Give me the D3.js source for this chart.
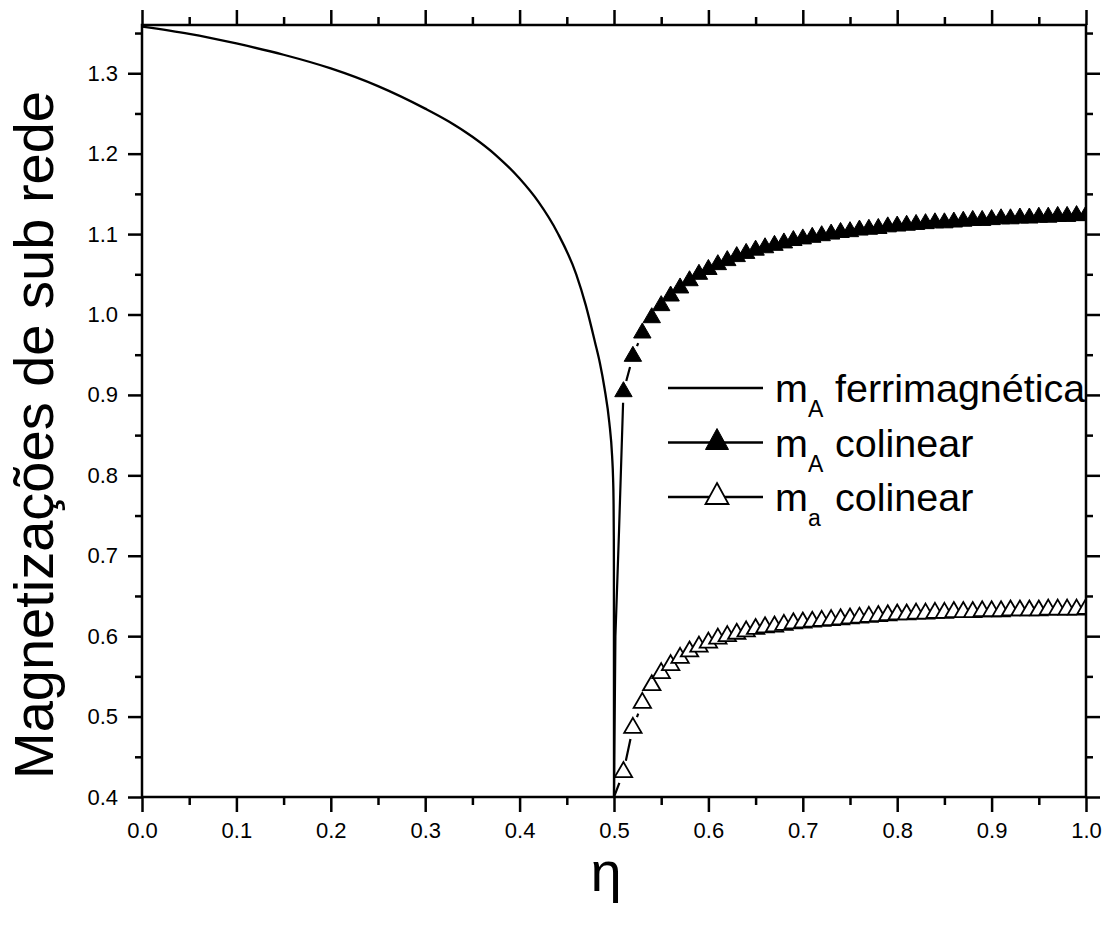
<!DOCTYPE html>
<html>
<head>
<meta charset="utf-8">
<script src="https://cdn.jsdelivr.net/npm/d3@7"></script>
<style>
  html, body { margin: 0; padding: 0; background: #fff; }
  svg { display: block; }
  text { font-family: "Liberation Sans", Arial, Helvetica, sans-serif; fill: #000; }
</style>
</head>
<body>
<svg id="chart" width="1116" height="927"></svg>
<script>
// Sublattice magnetization vs. eta
// Ferrimagnetic phase, m_A (continuous curve)
const etaFerri = [0, 0.05, 0.10, 0.15, 0.20, 0.25, 0.30, 0.325, 0.35, 0.375, 0.40, 0.42, 0.44,
                  0.46, 0.47, 0.48, 0.485, 0.49, 0.495, 0.498, 0.499, 0.4995, 0.4998, 0.4999, 0.5];
const mAFerri  = [1.358, 1.349, 1.337, 1.323, 1.306, 1.284, 1.256, 1.240, 1.221, 1.198, 1.169, 1.140, 1.102,
                  1.050, 1.012, 0.965, 0.940, 0.908, 0.866, 0.824, 0.797, 0.770, 0.725, 0.680, 0.400];

// Colinear phase, points just above the transition (no symbols)
const etaNearA = [0.5, 0.5015, 0.5053];
const mANear   = [0.400, 0.600, 0.730];
const etaNeara = [0.5];
const maNear   = [0.400];

// Colinear phase, points drawn with symbols
const etaCol = [0.51, 0.52, 0.53, 0.54, 0.55, 0.56, 0.57, 0.58, 0.59, 0.60,
                0.61, 0.62, 0.63, 0.64, 0.65, 0.66, 0.67, 0.68, 0.69, 0.70,
                0.71, 0.72, 0.73, 0.74, 0.75, 0.76, 0.77, 0.78, 0.79, 0.80,
                0.81, 0.82, 0.83, 0.84, 0.85, 0.86, 0.87, 0.88, 0.89, 0.90,
                0.91, 0.92, 0.93, 0.94, 0.95, 0.96, 0.97, 0.98, 0.99, 1.00];
const mACol = [0.904, 0.948, 0.977, 0.996, 1.011, 1.023, 1.033, 1.042, 1.050, 1.056,
               1.062, 1.067, 1.072, 1.076, 1.080, 1.083, 1.086, 1.089, 1.092, 1.094,
               1.096, 1.098, 1.100, 1.102, 1.103, 1.105, 1.106, 1.107, 1.109, 1.110,
               1.111, 1.112, 1.113, 1.114, 1.114, 1.115, 1.116, 1.117, 1.117, 1.118,
               1.119, 1.119, 1.120, 1.120, 1.121, 1.121, 1.122, 1.122, 1.123, 1.123];
const maCol = [0.431, 0.486, 0.517, 0.539, 0.554, 0.564, 0.573, 0.581, 0.587, 0.592,
               0.597, 0.600, 0.603, 0.606, 0.609, 0.611, 0.612, 0.614, 0.616, 0.617,
               0.618, 0.619, 0.620, 0.621, 0.622, 0.623, 0.624, 0.625, 0.626, 0.627,
               0.627, 0.628, 0.628, 0.629, 0.629, 0.630, 0.630, 0.630, 0.631, 0.631,
               0.631, 0.632, 0.632, 0.632, 0.632, 0.633, 0.633, 0.633, 0.633, 0.634];

// Axis ticks
const xMajor = [0, 0.1, 0.2, 0.3, 0.4, 0.5, 0.6, 0.7, 0.8, 0.9, 1.0];
const xLabels = ["0.0", "0.1", "0.2", "0.3", "0.4", "0.5", "0.6", "0.7", "0.8", "0.9", "1.0"];
const xMinor = [0.05, 0.15, 0.25, 0.35, 0.45, 0.55, 0.65, 0.75, 0.85, 0.95];
const yMajor = [0.4, 0.5, 0.6, 0.7, 0.8, 0.9, 1.0, 1.1, 1.2, 1.3];
const yLabels = ["0.4", "0.5", "0.6", "0.7", "0.8", "0.9", "1.0", "1.1", "1.2", "1.3"];
const yMinor = [0.45, 0.55, 0.65, 0.75, 0.85, 0.95, 1.05, 1.15, 1.25, 1.35];

const legendItems = [
  { main: "m", sub: "A", rest: "ferrimagnética", symbol: null },
  { main: "m", sub: "A", rest: "colinear", symbol: "filled" },
  { main: "m", sub: "a", rest: "colinear", symbol: "open" }
];

// ---------------------------------------------------------------
const svg = d3.select("#chart");
const L = 142, R = 1086, T = 25, B = 797;
const x = d3.scaleLinear().domain([0, 1]).range([L, R]);
const y = d3.scaleLinear().domain([0.4, 1.36]).range([B, T]);

const AXW = 2.5;

svg.append("defs").append("clipPath").attr("id", "plotClip")
  .append("rect").attr("x", L).attr("y", T).attr("width", R - L).attr("height", B - T);

// triangle path centred on the data point (apex up)
function tri(hw, up, down) {
  return `M0,${-up}L${hw},${down}L${-hw},${down}Z`;
}

const plot = svg.append("g").attr("clip-path", "url(#plotClip)");

// ferrimagnetic curve
const ferri = etaFerri.map((e, i) => [x(e), y(mAFerri[i])]);
plot.append("path")
  .attr("d", d3.line().curve(d3.curveMonotoneX)(ferri))
  .attr("fill", "none").attr("stroke", "#000").attr("stroke-width", 2.3);

// polyline with gaps around symbols
function gappedLine(pts, gap) {
  const segs = [];
  for (let i = 0; i < pts.length - 1; i++) {
    const p = pts[i], q = pts[i + 1];
    const dx = q.px - p.px, dy = q.py - p.py;
    const len = Math.hypot(dx, dy);
    const g0 = p.sym ? gap : 0, g1 = q.sym ? gap : 0;
    if (len <= g0 + g1) continue;
    const ux = dx / len, uy = dy / len;
    segs.push(`M${p.px + ux * g0},${p.py + uy * g0}L${q.px - ux * g1},${q.py - uy * g1}`);
  }
  return segs.join("");
}

function series(nearEta, nearM, eta, m) {
  const pts = [];
  nearEta.forEach((e, i) => pts.push({ px: x(e), py: y(nearM[i]), sym: false }));
  eta.forEach((e, i) => pts.push({ px: x(e), py: y(m[i]), sym: true }));
  return pts;
}

const ptsA = series(etaNearA, mANear, etaCol, mACol);
const ptsa = series(etaNeara, maNear, etaCol, maCol);

plot.append("path").attr("d", gappedLine(ptsA, 11))
  .attr("fill", "none").attr("stroke", "#000").attr("stroke-width", 2.2);
plot.append("path").attr("d", gappedLine(ptsa, 11.5))
  .attr("fill", "none").attr("stroke", "#000").attr("stroke-width", 2.2);

const triData = tri(8.7, 10, 5);
plot.selectAll("path.symA").data(ptsA.filter(p => p.sym)).join("path")
  .attr("class", "symA")
  .attr("transform", p => `translate(${p.px},${p.py})`)
  .attr("d", triData).attr("fill", "#000").attr("stroke", "#000").attr("stroke-width", 1);

plot.selectAll("path.syma").data(ptsa.filter(p => p.sym)).join("path")
  .attr("class", "syma")
  .attr("transform", p => `translate(${p.px},${p.py})`)
  .attr("d", triData).attr("fill", "#fff").attr("stroke", "#000").attr("stroke-width", 1.8);

// ---------------------------------------------------------------
// axes: outward major and minor ticks on all four sides
function styleAxis(g) {
  g.select(".domain").remove();
  g.selectAll(".tick line").attr("stroke", "#000").attr("stroke-width", AXW);
  g.selectAll(".tick text").style("font-family", "'Liberation Sans', Arial, sans-serif")
    .style("font-size", "22px").attr("fill", "#000");
}

svg.append("g").attr("transform", `translate(0,${B})`)
  .call(d3.axisBottom(x).tickValues(xMajor).tickSize(15).tickPadding(10)
    .tickFormat((d, i) => xLabels[i])).call(styleAxis);
svg.append("g").attr("transform", `translate(0,${B})`)
  .call(d3.axisBottom(x).tickValues(xMinor).tickSize(8).tickFormat("")).call(styleAxis);

svg.append("g").attr("transform", `translate(0,${T})`)
  .call(d3.axisTop(x).tickValues(xMajor).tickSize(15).tickFormat("")).call(styleAxis);
svg.append("g").attr("transform", `translate(0,${T})`)
  .call(d3.axisTop(x).tickValues(xMinor).tickSize(8).tickFormat("")).call(styleAxis);

svg.append("g").attr("transform", `translate(${L},0)`)
  .call(d3.axisLeft(y).tickValues(yMajor).tickSize(14).tickPadding(10)
    .tickFormat((d, i) => yLabels[i])).call(styleAxis);
svg.append("g").attr("transform", `translate(${L},0)`)
  .call(d3.axisLeft(y).tickValues(yMinor).tickSize(7).tickFormat("")).call(styleAxis);

svg.append("g").attr("transform", `translate(${R},0)`)
  .call(d3.axisRight(y).tickValues(yMajor).tickSize(14).tickFormat("")).call(styleAxis);
svg.append("g").attr("transform", `translate(${R},0)`)
  .call(d3.axisRight(y).tickValues(yMinor).tickSize(7).tickFormat("")).call(styleAxis);

// frame
svg.append("rect").attr("x", L).attr("y", T).attr("width", R - L).attr("height", B - T)
  .attr("fill", "none").attr("stroke", "#000").attr("stroke-width", AXW);

// axis titles
svg.append("text")
  .attr("transform", "translate(53,435) rotate(-90)")
  .attr("text-anchor", "middle")
  .style("font-size", "56px")
  .text("Magnetizações de sub rede");

svg.append("text")
  .attr("x", 606).attr("y", 891)
  .attr("text-anchor", "middle")
  .style("font-size", "56px")
  .text("η");

// ---------------------------------------------------------------
// legend
const legY0 = 388, legDY = 54.5;
const leg = svg.append("g");
legendItems.forEach((it, i) => {
  const ly = legY0 + i * legDY;
  leg.append("line").attr("x1", 668).attr("x2", 763).attr("y1", ly).attr("y2", ly)
    .attr("stroke", "#000").attr("stroke-width", 2.3);
  if (it.symbol) {
    leg.append("path").attr("transform", `translate(717,${ly})`)
      .attr("d", tri(11.5, 14, 7))
      .attr("fill", it.symbol === "filled" ? "#000" : "#fff")
      .attr("stroke", "#000").attr("stroke-width", it.symbol === "filled" ? 1 : 1.8);
  }
  leg.append("text").attr("x", 775).attr("y", ly + 14).style("font-size", "39.5px").text(it.main);
  leg.append("text").attr("x", 808).attr("y", ly + 29).style("font-size", "23px").text(it.sub);
  leg.append("text").attr("x", 835).attr("y", ly + 14).style("font-size", "39.5px").text(it.rest);
});
</script>
</body>
</html>
